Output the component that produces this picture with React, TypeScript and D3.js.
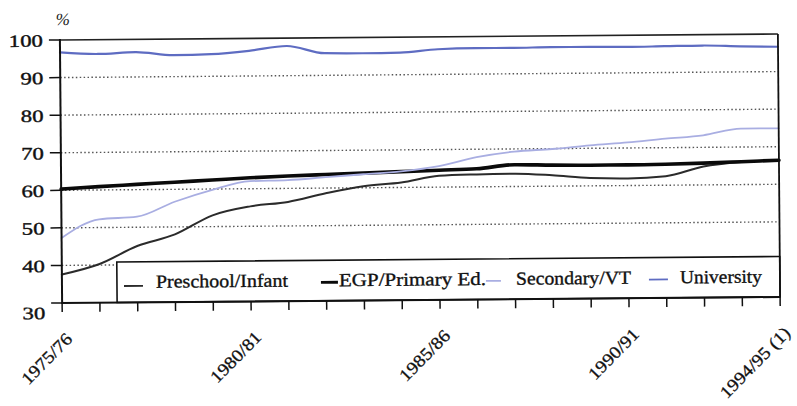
import React from "react";
import * as d3 from "d3";

const categories = [
  "1975/76", "1976/77", "1977/78", "1978/79", "1979/80",
  "1980/81", "1981/82", "1982/83", "1983/84", "1984/85",
  "1985/86", "1986/87", "1987/88", "1988/89", "1989/90",
  "1990/91", "1991/92", "1992/93", "1993/94", "1994/95",
];
const xTickLabels = ["1975/76", "1980/81", "1985/86", "1990/91", "1994/95 (1)"];
const xTickIndex = [0, 5, 10, 15, 19];
const yTicks = [30, 40, 50, 60, 70, 80, 90, 100];
const gridTicks = [40, 50, 60, 70, 80, 90];

const preschool = [37.6, 40.3, 45.0, 48.0, 53.0, 55.3, 56.4, 58.6, 60.4, 61.3, 63.0, 63.3, 63.4, 62.9, 62.1, 61.9, 62.4, 64.9, 66.0, 66.4];
const egp = [60.3, 60.9, 61.4, 61.9, 62.4, 62.9, 63.3, 63.6, 63.9, 64.2, 64.5, 64.8, 65.8, 65.6, 65.5, 65.5, 65.6, 65.8, 66.1, 66.4];
const secondary = [47.3, 52.2, 52.8, 56.7, 59.8, 62.0, 62.2, 62.9, 63.6, 64.3, 65.6, 67.9, 69.3, 69.9, 70.8, 71.5, 72.4, 73.2, 74.9, 74.9];
const university = [96.7, 96.2, 96.6, 95.7, 95.9, 96.7, 97.9, 95.9, 95.8, 95.9, 96.7, 96.9, 96.9, 97.0, 97.0, 96.9, 97.0, 97.1, 96.8, 96.6];

const seriesNames = ["Preschool/Infant", "EGP/Primary Ed.", "Secondary/VT", "University"];

const series = [
  { name: seriesNames[0], values: preschool, color: "#2b2b2b", width: 2 },
  { name: seriesNames[1], values: egp, color: "#0a0a0a", width: 3.6 },
  { name: seriesNames[2], values: secondary, color: "#a9aee2", width: 1.8 },
  { name: seriesNames[3], values: university, color: "#5e6cc2", width: 2.2 },
];

// legend layout: symbol start/end, text start, text width
const legendLayout = [
  { s0: 123, s1: 142, tx: 155, tw: 132, sy: -2 },
  { s0: 320, s1: 337, tx: 338, tw: 147, sy: -4 },
  { s0: 485, s1: 500, tx: 515, tw: 115, sy: -4 },
  { s0: 648, s1: 667, tx: 679, tw: 82, sy: -4 },
];

const W = 797;
const H = 406;
const left = 61;
const right = 779;
const top = 37;
const bottom = 300;

export default function App() {
  const x = d3.scalePoint<string>().domain(categories).range([left, right]);
  const y = d3.scaleLinear().domain([30, 100]).range([bottom, top]);
  const line = d3
    .line<number>()
    .x((_, i) => x(categories[i]) as number)
    .y((d) => y(d))
    .curve(d3.curveMonotoneX);

  const font = "'Liberation Serif', 'Times New Roman', serif";
  const legendTop = 259.5;
  const legendBaseline = 285.5;

  return (
    <svg
      width={W}
      height={H}
      style={{ position: "absolute", left: 0, top: 0, background: "#fff" }}
      fontFamily={font}
    >
      <rect x={0} y={0} width={W} height={H} fill="#fff" />
      <g transform="rotate(-0.48, 420, 168)">
        {/* grid */}
        {gridTicks.map((t) => (
          <line
            key={"g" + t}
            x1={left}
            x2={right}
            y1={y(t)}
            y2={y(t)}
            stroke="#555"
            strokeWidth={1.4}
            strokeDasharray="1.5,2.4"
          />
        ))}
        {/* lines */}
        {series.map((s) => (
          <path
            key={s.name}
            d={line(s.values) as string}
            fill="none"
            stroke={s.color}
            strokeWidth={s.width}
            strokeLinejoin="round"
            strokeLinecap="round"
          />
        ))}
        {/* legend */}
        <rect
          x={116}
          y={legendTop}
          width={right - 116}
          height={bottom - legendTop}
          fill="#fff"
          stroke="#111"
          strokeWidth={1.6}
        />
        {series.map((s, i) => {
          const L = legendLayout[i];
          return (
            <g key={"lg" + i}>
              <line
                x1={L.s0}
                x2={L.s1}
                y1={legendBaseline + L.sy}
                y2={legendBaseline + L.sy}
                stroke={s.color}
                strokeWidth={Math.max(1.8, s.width * 0.8)}
              />
              <text
                x={L.tx}
                y={legendBaseline}
                fontSize={18.5}
                fill="#111"
                stroke="#111"
                strokeWidth={0.35}
                textLength={L.tw}
                lengthAdjust="spacingAndGlyphs"
              >
                {s.name}
              </text>
            </g>
          );
        })}
        {/* frame */}
        <line x1={left} x2={right} y1={top} y2={top} stroke="#222" strokeWidth={1.6} />
        <line x1={right} x2={right} y1={top} y2={bottom} stroke="#111" strokeWidth={1.8} />
        <line x1={left} x2={left} y1={top - 1} y2={bottom} stroke="#111" strokeWidth={2} />
        <line x1={left - 1} x2={right} y1={bottom} y2={bottom} stroke="#111" strokeWidth={2} />
        {/* y ticks */}
        {yTicks.map((t) => (
          <g key={"yt" + t}>
            <line x1={left - 11} x2={left} y1={y(t)} y2={y(t)} stroke="#111" strokeWidth={1.5} />
            <text
              transform={`translate(44, ${y(t) + (t === 30 ? 16 : 6.5)}) scale(1.3, 1)`}
              textAnchor="end"
              fontSize={17.5}
              fill="#111"
              stroke="#111"
              strokeWidth={0.4}
            >
              {t}
            </text>
          </g>
        ))}
        <text x={57} y={22} fontSize={17} fill="#222" fontStyle="italic">
          %
        </text>
        {/* x ticks */}
        {categories.map((c) => (
          <line
            key={"xt" + c}
            x1={x(c) as number}
            x2={x(c) as number}
            y1={bottom}
            y2={bottom + 9}
            stroke="#111"
            strokeWidth={1.5}
          />
        ))}
        {xTickIndex.map((idx, k) => {
          const px = x(categories[idx]) as number;
          return (
            <text
              key={"xl" + k}
              transform={`translate(${px + 11}, ${bottom + 37}) rotate(-45) scale(1.12, 1)`}
              textAnchor="end"
              fontSize={17.5}
              fill="#111"
              stroke="#111"
              strokeWidth={0.3}
            >
              {xTickLabels[k]}
            </text>
          );
        })}
      </g>
    </svg>
  );
}
